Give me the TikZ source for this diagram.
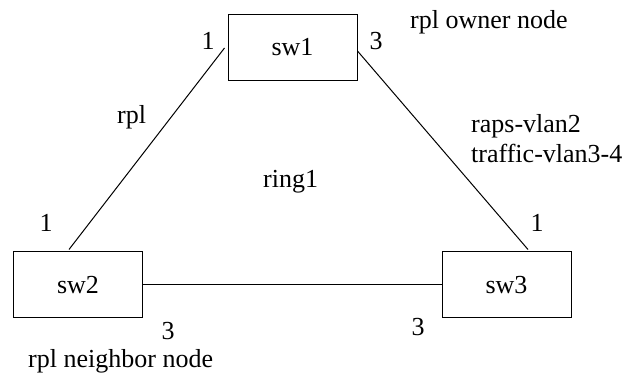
\documentclass[tikz,border=0pt]{standalone}
\usepackage{fontspec}
\setmainfont{Liberation Serif}
\usetikzlibrary{calc}
\begin{document}
\begin{tikzpicture}[x=1pt,y=-1pt,
  swbox/.style={draw,line width=1pt,minimum width=129pt,minimum height=66pt,inner sep=0pt,font=\fontsize{26}{30}\selectfont},
  lbl/.style={inner sep=0pt,font=\fontsize{26}{30}\selectfont},
  link/.style={line width=1pt}]
\useasboundingbox (0,0) rectangle (624,379);
\node[swbox] (sw1) at (292.5,47.5) {sw1};
\node[swbox] (sw2) at (78,285) {sw2};
\node[swbox] (sw3) at (506.5,285) {sw3};
\coordinate (a1) at ($(sw1.west)+(-3,0.5)$);
\coordinate (a2) at ($(sw2.north)+(-9,-2)$);
\coordinate (b1) at ($(sw1.east)+(0,3.5)$);
\coordinate (b2) at ($(sw3.north)+(21.5,-2)$);
\draw[link] (a1) -- (a2);
\draw[link] (b1) -- (b2);
\draw[link] (sw2.east) -- (sw3.west);
\node[lbl,anchor=base] (p1) at (208,50) {1};
\node[lbl,anchor=base] (p2) at (376,50) {3};
\node[lbl,anchor=base west] (own) at (410,29) {rpl owner node};
\node[lbl,anchor=base west] (rpl) at (117,124) {rpl};
\node[lbl,anchor=base west] (ring) at (263,188) {ring1};
\node[lbl,anchor=base west] (raps) at (471,133) {raps-vlan2};
\node[lbl,anchor=base west] (traf) at (471,163) {traffic-vlan3-4};
\node[lbl,anchor=base] (p3) at (46,232) {1};
\node[lbl,anchor=base] (p4) at (537,232) {1};
\node[lbl,anchor=base] (p5) at (168,340) {3};
\node[lbl,anchor=base] (p6) at (418,336) {3};
\node[lbl,anchor=base west] (nb) at (28,367) {rpl neighbor node};
\end{tikzpicture}
\end{document}
